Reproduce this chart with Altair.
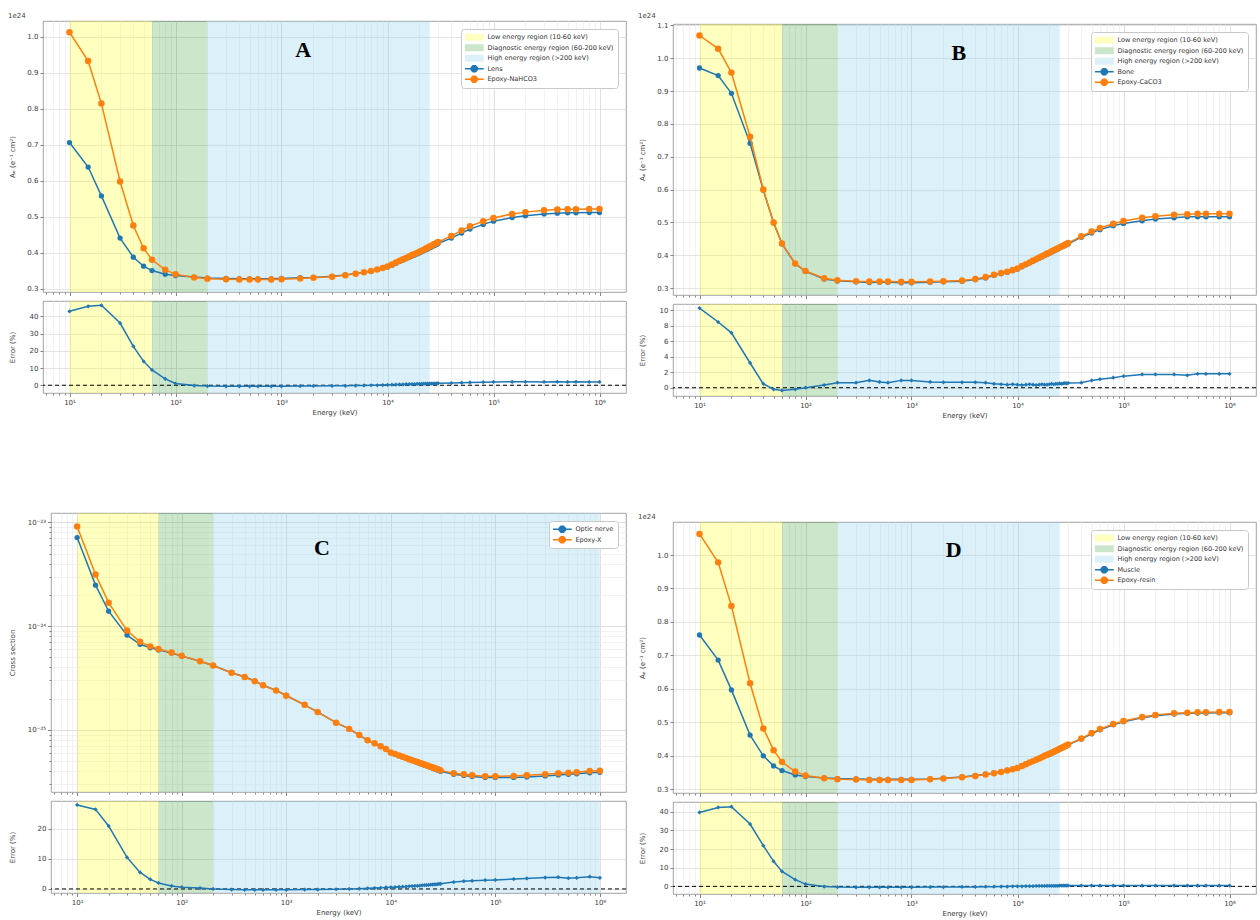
import altair as alt
import pandas as pd

# ---------------- data ----------------
E_KEV = [10, 15, 20, 30, 40, 50, 60, 80, 100, 150, 200, 300, 400, 500, 600, 800,
         1000, 1500, 2000, 3000, 4000, 5000,
         6000, 7000, 8000, 9000, 10000, 11000, 12000, 13000, 14000, 15000, 16000,
         17000, 18000, 19000, 20000, 21000, 22000, 23000, 24000, 25000, 26000,
         27000, 28000, 29000, 30000,
         40000, 50000, 60000, 80000, 100000, 150000, 200000, 300000, 400000,
         500000, 600000, 800000, 1000000]

# Panel A (values x 1e24)
A_LENS = [0.706, 0.638, 0.558, 0.441, 0.388, 0.363, 0.351, 0.341, 0.337, 0.333, 0.330, 0.329, 0.328, 0.328, 0.328, 0.328,
          0.329, 0.331, 0.332, 0.335, 0.339, 0.343,
          0.346, 0.350, 0.354, 0.358, 0.361, 0.366, 0.371, 0.376, 0.380, 0.384, 0.388,
          0.391, 0.394, 0.397, 0.400, 0.403, 0.406, 0.409, 0.411, 0.414, 0.416,
          0.419, 0.421, 0.423, 0.426,
          0.441, 0.455, 0.466, 0.479, 0.488, 0.498, 0.503, 0.508, 0.510,
          0.511, 0.511, 0.512, 0.512]
A_EPOXY = [1.012, 0.932, 0.814, 0.598, 0.476, 0.413, 0.381, 0.353, 0.341, 0.332, 0.328, 0.327, 0.326, 0.326, 0.326, 0.326,
           0.327, 0.329, 0.331, 0.334, 0.338, 0.342,
           0.346, 0.350, 0.354, 0.358, 0.362, 0.368, 0.373, 0.378, 0.382, 0.386, 0.390,
           0.394, 0.397, 0.400, 0.403, 0.406, 0.409, 0.412, 0.415, 0.418, 0.420,
           0.423, 0.425, 0.427, 0.430,
           0.447, 0.462, 0.474, 0.488, 0.497, 0.508, 0.513, 0.518, 0.520,
           0.521, 0.521, 0.522, 0.522]
A_ERR = [42.9, 45.8, 46.4, 36.1, 22.6, 13.9, 8.9, 3.7, 1.0, -0.2, -0.5, -0.6, -0.6, -0.6, -0.6, -0.6,
         -0.6, -0.5, -0.4, -0.3, -0.3, -0.2,
         -0.1, 0.0, 0.0, 0.1, 0.2, 0.3, 0.4, 0.5, 0.5, 0.6, 0.6,
         0.7, 0.7, 0.8, 0.8, 0.8, 0.9, 0.9, 0.9, 1.0, 1.0,
         1.0, 1.0, 1.1, 1.1,
         1.3, 1.5, 1.6, 1.8, 1.9, 2.0, 2.0, 1.9, 2.0,
         1.9, 2.0, 1.9, 1.9]

# Panel B (values x 1e24)
B_BONE = [0.970, 0.947, 0.893, 0.741, 0.598, 0.499, 0.435, 0.374, 0.351, 0.328, 0.322, 0.319, 0.317, 0.318, 0.318, 0.316,
          0.316, 0.318, 0.319, 0.321, 0.326, 0.331,
          0.339, 0.344, 0.348, 0.353, 0.358, 0.365, 0.371, 0.377, 0.382, 0.387, 0.391,
          0.395, 0.399, 0.403, 0.406, 0.410, 0.413, 0.416, 0.419, 0.422, 0.425,
          0.427, 0.430, 0.432, 0.434,
          0.455, 0.468, 0.478, 0.490, 0.497, 0.505, 0.510, 0.514, 0.517,
          0.517, 0.517, 0.517, 0.517]
B_EPOXY = [1.069, 1.029, 0.956, 0.761, 0.600, 0.500, 0.436, 0.375, 0.352, 0.330, 0.324, 0.321, 0.320, 0.320, 0.320, 0.319,
           0.319, 0.320, 0.321, 0.323, 0.328, 0.334,
           0.341, 0.346, 0.350, 0.355, 0.360, 0.367, 0.373, 0.378, 0.384, 0.388, 0.393,
           0.397, 0.401, 0.405, 0.408, 0.412, 0.415, 0.418, 0.421, 0.424, 0.427,
           0.429, 0.432, 0.434, 0.437,
           0.458, 0.472, 0.483, 0.496, 0.504, 0.514, 0.519, 0.523, 0.525,
           0.526, 0.526, 0.526, 0.526]
B_ERR = [10.3, 8.5, 7.1, 3.2, 0.5, -0.2, -0.35, -0.2, 0.0, 0.35, 0.65, 0.65, 0.95, 0.75, 0.65, 0.95,
         0.95, 0.75, 0.7, 0.7, 0.7, 0.65,
         0.5, 0.45, 0.4, 0.45, 0.4, 0.35, 0.4, 0.45, 0.4, 0.35, 0.4,
         0.45, 0.4, 0.4, 0.45, 0.5, 0.45, 0.5, 0.5, 0.55, 0.5,
         0.55, 0.6, 0.55, 0.6,
         0.65, 0.95, 1.1, 1.3, 1.5, 1.72, 1.72, 1.72, 1.6,
         1.8, 1.8, 1.8, 1.8]

# Panel C (cross section)
C_NERVE = [7.13e-24, 2.48e-24, 1.39e-24, 8.18e-25, 6.67e-25, 6.17e-25, 5.89e-25, 5.50e-25, 5.13e-25, 4.57e-25,
           4.17e-25, 3.55e-25, 3.24e-25, 2.95e-25, 2.69e-25, 2.40e-25,
           2.14e-25, 1.74e-25, 1.48e-25, 1.17e-25, 1.02e-25, 8.9e-26,
           7.9e-26, 7.4e-26, 6.9e-26, 6.5e-26, 6.0e-26, 5.81e-26, 5.62e-26, 5.46e-26, 5.31e-26, 5.16e-26, 5.04e-26,
           4.93e-26, 4.83e-26, 4.73e-26, 4.65e-26, 4.56e-26, 4.49e-26, 4.42e-26, 4.35e-26, 4.28e-26, 4.22e-26,
           4.16e-26, 4.10e-26, 4.05e-26, 3.98e-26,
           3.72e-26, 3.63e-26, 3.55e-26, 3.47e-26, 3.47e-26, 3.47e-26, 3.51e-26, 3.59e-26, 3.67e-26,
           3.72e-26, 3.76e-26, 3.85e-26, 3.89e-26]
C_EPOXY = [9.13e-24, 3.14e-24, 1.68e-24, 9.04e-25, 7.04e-25, 6.37e-25, 6.01e-25, 5.56e-25, 5.16e-25, 4.58e-25,
           4.17e-25, 3.54e-25, 3.23e-25, 2.94e-25, 2.68e-25, 2.39e-25,
           2.13e-25, 1.74e-25, 1.48e-25, 1.17e-25, 1.02e-25, 8.9e-26,
           7.92e-26, 7.42e-26, 6.92e-26, 6.52e-26, 6.03e-26, 5.84e-26, 5.66e-26, 5.50e-26, 5.35e-26, 5.21e-26, 5.09e-26,
           4.98e-26, 4.88e-26, 4.78e-26, 4.70e-26, 4.62e-26, 4.55e-26, 4.48e-26, 4.41e-26, 4.35e-26, 4.29e-26,
           4.23e-26, 4.17e-26, 4.12e-26, 4.06e-26,
           3.81e-26, 3.73e-26, 3.65e-26, 3.57e-26, 3.57e-26, 3.59e-26, 3.64e-26, 3.73e-26, 3.81e-26,
           3.85e-26, 3.90e-26, 4.01e-26, 4.03e-26]
C_ERR = [28.0, 26.5, 21.0, 10.5, 5.5, 3.2, 2.0, 1.0, 0.6, 0.3, 0.0, -0.2, -0.3, -0.3, -0.3, -0.3,
         -0.3, -0.2, -0.2, -0.1, 0.0, 0.1,
         0.2, 0.3, 0.4, 0.5, 0.55, 0.6, 0.7, 0.75, 0.8, 0.9, 0.95,
         1.0, 1.05, 1.1, 1.2, 1.25, 1.3, 1.35, 1.4, 1.45, 1.5,
         1.55, 1.6, 1.65, 1.7,
         2.3, 2.6, 2.7, 2.9, 3.0, 3.3, 3.5, 3.8, 3.9,
         3.6, 3.7, 4.1, 3.7]

# Panel D (values x 1e24)
D_MUSCLE = [0.761, 0.686, 0.597, 0.462, 0.400, 0.370, 0.356, 0.343, 0.338, 0.334, 0.332, 0.331, 0.330, 0.330, 0.330, 0.330,
            0.330, 0.331, 0.333, 0.337, 0.341, 0.345,
            0.349, 0.353, 0.357, 0.360, 0.364, 0.370, 0.375, 0.380, 0.384, 0.388, 0.392,
            0.396, 0.399, 0.402, 0.405, 0.408, 0.411, 0.414, 0.417, 0.420, 0.423,
            0.425, 0.428, 0.430, 0.433,
            0.450, 0.466, 0.478, 0.493, 0.502, 0.514, 0.520, 0.525, 0.527,
            0.528, 0.528, 0.529, 0.529]
D_EPOXY = [1.063, 0.978, 0.848, 0.617, 0.482, 0.417, 0.382, 0.353, 0.341, 0.333, 0.330, 0.329, 0.328, 0.328, 0.328, 0.328,
           0.328, 0.330, 0.332, 0.336, 0.340, 0.344,
           0.348, 0.352, 0.356, 0.360, 0.364, 0.370, 0.375, 0.380, 0.384, 0.388, 0.392,
           0.396, 0.400, 0.403, 0.406, 0.409, 0.412, 0.415, 0.418, 0.421, 0.424,
           0.426, 0.429, 0.431, 0.434,
           0.452, 0.468, 0.480, 0.495, 0.504, 0.516, 0.522, 0.527, 0.529,
           0.530, 0.530, 0.531, 0.531]
D_ERR = [39.6, 42.3, 42.7, 33.4, 21.8, 13.4, 8.0, 3.6, 1.2, -0.1, -0.4, -0.5, -0.5, -0.5, -0.5, -0.5,
         -0.5, -0.4, -0.4, -0.3, -0.3, -0.2,
         -0.2, -0.1, -0.1, 0.0, 0.0, 0.0, 0.1, 0.1, 0.1, 0.2, 0.2,
         0.2, 0.2, 0.3, 0.3, 0.3, 0.3, 0.3, 0.3, 0.4, 0.4,
         0.4, 0.4, 0.4, 0.4,
         0.4, 0.4, 0.4, 0.4, 0.4, 0.4, 0.4, 0.4, 0.4,
         0.4, 0.4, 0.4, 0.4]

REGION_NAMES = ["Low energy region (10-60 keV)", "Diagnostic energy region (60-200 keV)",
                "High energy region (>200 keV)"]
REGION_START = [10, 60, 200]
REGION_END_ABD = [60, 200, 25000]
REGION_END_C = [60, 200, 1000000]

# ---------------- styling ----------------
REGION_FILL = ["rgba(255,255,0,0.25)", "rgba(0,128,0,0.2)", "rgba(135,206,235,0.3)"]
BLUE = "#1f77b4"
ORANGE = "#ff7f0e"
X_MIN, X_MAX = 10 ** 0.75, 10 ** 6.25
FONT = "DejaVu Sans"

# legend symbols (symbolSize 4 -> path units are pixels)
RECT_SYM = "M-3.5,-3.5H15.5V3.5H-3.5Z"
LINE_SYM = ("M-3.5,0H15.5M8.96,1.22L7.22,2.96L4.78,2.96L3.04,1.22L3.04,-1.22"
            "L4.78,-2.96L7.22,-2.96L8.96,-1.22Z")

MAJOR = "abs(log(datum.value)/LN10 - round(log(datum.value)/LN10)) < 0.001"
X_LABELS = "(" + MAJOR + ") ? '10' + ['⁰','¹','²','³','⁴','⁵','⁶'][round(log(datum.value)/LN10)] : ''"
C_Y_LABELS = ("(" + MAJOR + ") ? (round(log(datum.value)/LN10) == -23 ? '10⁻²³' : "
              "round(log(datum.value)/LN10) == -24 ? '10⁻²⁴' : "
              "round(log(datum.value)/LN10) == -25 ? '10⁻²⁵' : '') : ''")

INDEP = dict(fill="independent", stroke="independent", shape="independent", color="independent")


def log_ticks(lo, hi, kmin, kmax):
    out = []
    for k in range(kmin, kmax + 1):
        for m in range(1, 10):
            v = float(f"{m}e{k}")
            if lo <= v <= hi:
                out.append(v)
    return out


X_TICKS = log_ticks(X_MIN, X_MAX, 0, 6)
TICK_SIZE = {"condition": {"test": MAJOR, "value": 3.5}, "value": 2}
GRID_COL = {"condition": {"test": MAJOR, "value": "#d2d2d2"}, "value": "#ececec"}

x_scale = alt.Scale(type="log", domain=[X_MIN, X_MAX], nice=False)
x_axis_top = alt.Axis(values=X_TICKS, labels=False, title=None, tickSize=TICK_SIZE, gridColor=GRID_COL)
x_axis_err = alt.Axis(values=X_TICKS, labelExpr=X_LABELS, title="Energy (keV)", tickSize=TICK_SIZE,
                      gridColor=GRID_COL, labelOverlap=False, labelPadding=2, titlePadding=3)


def spacer(w=1, h=1):
    return alt.Chart(pd.DataFrame({"a": [0]})).mark_point(opacity=0).properties(
        width=w, height=h, view=alt.ViewBackground(stroke="transparent"))


def panel(blue_vals, orange_vals, err_vals, blue_name, orange_name, region_end, show_region_legend,
          y_scale, y_axis, err_domain, err_ticks, ext, top_h, width, letter, letter_at, offset_text):
    df = pd.DataFrame({"E": E_KEV, "blue": blue_vals, "orange": orange_vals, "err": err_vals})
    reg = pd.DataFrame({"start": REGION_START, "end": region_end, "region": REGION_NAMES})
    reg_color = alt.Color("region:N", scale=alt.Scale(domain=REGION_NAMES, range=REGION_FILL), legend=None)

    # ---- top chart ----
    xt = alt.X("E:Q", scale=x_scale, axis=x_axis_top)
    reg_top = alt.Chart(reg).mark_rect().encode(
        x=alt.X("start:Q", scale=x_scale, axis=x_axis_top), x2="end:Q", color=reg_color)
    blue_line = alt.Chart(df).mark_line(color=BLUE, strokeWidth=1.5, clip=True,
                                        point=alt.OverlayMarkDef(filled=True, size=28, color=BLUE, opacity=1)).encode(
        x=xt, y=alt.Y("blue:Q", scale=y_scale, axis=y_axis))
    orange_line = alt.Chart(df).mark_line(color=ORANGE, strokeWidth=1.5, clip=True,
                                          point=alt.OverlayMarkDef(filled=True, size=42, color=ORANGE, opacity=1)).encode(
        x=xt, y=alt.Y("orange:Q", scale=y_scale, axis=y_axis))

    if show_region_legend:
        leg_labels = REGION_NAMES + [blue_name, orange_name]
        leg_fill = REGION_FILL + [BLUE, ORANGE]
        leg_stroke = ["transparent"] * 3 + [BLUE, ORANGE]
        leg_shape = [RECT_SYM] * 3 + [LINE_SYM, LINE_SYM]
    else:
        leg_labels = [blue_name, orange_name]
        leg_fill = [BLUE, ORANGE]
        leg_stroke = [BLUE, ORANGE]
        leg_shape = [LINE_SYM, LINE_SYM]
    leg_df = pd.DataFrame({"label": leg_labels, "E": [E_KEV[0]] * len(leg_labels),
                           "v": [blue_vals[0]] * len(leg_labels)})
    lg = dict(title=None, orient="top-right", offset=8, fillColor="white", strokeColor="#c8c8c8",
              padding=4, cornerRadius=3, labelFontSize=6.5, labelColor="#333333", labelFont=FONT,
              symbolSize=4, symbolStrokeWidth=1.5, symbolOpacity=1, labelOffset=16, rowPadding=1.5,
              labelLimit=400, labelBaseline="middle", clipHeight=8.5)
    legend_layer = alt.Chart(leg_df).transform_filter("false").mark_point(filled=True, opacity=1, size=4).encode(
        x=xt, y=alt.Y("v:Q", scale=y_scale, axis=y_axis),
        fill=alt.Fill("label:N", scale=alt.Scale(domain=leg_labels, range=leg_fill), legend=alt.Legend(**lg)),
        stroke=alt.Stroke("label:N", scale=alt.Scale(domain=leg_labels, range=leg_stroke), legend=alt.Legend(**lg)),
        shape=alt.Shape("label:N", scale=alt.Scale(domain=leg_labels, range=leg_shape), legend=alt.Legend(**lg)),
    )
    let_df = pd.DataFrame({"E": [letter_at[0]], "v": [letter_at[1]], "t": [letter]})
    letter_layer = alt.Chart(let_df).mark_text(font="Liberation Serif", fontSize=22, fontWeight="bold",
                                               color="black").encode(
        x=xt, y=alt.Y("v:Q", scale=y_scale, axis=y_axis), text="t:N")

    top = alt.layer(reg_top, blue_line, orange_line, letter_layer, legend_layer).properties(
        width=width, height=top_h)
    if offset_text:
        top = top.properties(title=alt.TitleParams(offset_text, anchor="start", fontSize=7, fontWeight="normal",
                                                   color="#444444", font=FONT, offset=2))

    # ---- error chart ----
    xe = alt.X("E:Q", scale=x_scale, axis=x_axis_err)
    e_scale = alt.Scale(domain=err_domain, nice=False, zero=False)
    e_axis = alt.Axis(values=err_ticks, format="d", title="Error (%)", minExtent=ext, maxExtent=ext,
                      titlePadding=3, tickSize=3, gridColor="#d8d8d8", labelPadding=2)
    reg_err = alt.Chart(reg).mark_rect().encode(
        x=alt.X("start:Q", scale=x_scale, axis=x_axis_err), x2="end:Q", color=reg_color)
    zero = alt.Chart(pd.DataFrame({"z": [0]})).mark_rule(color="black", strokeDash=[4, 3], strokeWidth=1).encode(
        y=alt.Y("z:Q", scale=e_scale, axis=e_axis))
    err_line = alt.Chart(df).mark_line(color=BLUE, strokeWidth=1.5, clip=True,
                                       point=alt.OverlayMarkDef(filled=True, size=18, shape="diamond",
                                                                color=BLUE, opacity=1)).encode(
        x=xe, y=alt.Y("err:Q", scale=e_scale, axis=e_axis))
    err = alt.layer(reg_err, zero, err_line).properties(width=width, height=92)
    return alt.vconcat(top, err, spacing=3).resolve_scale(**INDEP).resolve_legend(**INDEP)


def vwrap(p, gap):
    return alt.vconcat(spacer(), p, spacing=gap).resolve_scale(**INDEP).resolve_legend(**INDEP)


def hwrap(r):
    return alt.hconcat(spacer(), r, spacing=0).resolve_scale(**INDEP).resolve_legend(**INDEP)


def lin_axis(ticks, title, ext):
    return alt.Axis(values=ticks, format=".1f", title=title, minExtent=ext, maxExtent=ext, titlePadding=3,
                    tickSize=3, gridColor="#d8d8d8", labelPadding=2)


Y_TITLE = "Aₑ (e⁻¹ cm²)"
W = 583

pA = panel(A_LENS, A_EPOXY, A_ERR, "Lens", "Epoxy-NaHCO3", REGION_END_ABD, True,
           alt.Scale(domain=[0.2915, 1.043], nice=False, zero=False),
           lin_axis([0.3, 0.4, 0.5, 0.6, 0.7, 0.8, 0.9, 1.0], Y_TITLE, 25),
           [-4.5, 48.9], [0, 10, 20, 30, 40], 25, 271, W, "A", [1600, 0.962], "1e24")
pB = panel(B_BONE, B_EPOXY, B_ERR, "Bone", "Epoxy-CaCO3", REGION_END_ABD, True,
           alt.Scale(domain=[0.279, 1.104], nice=False, zero=False),
           lin_axis([0.3, 0.4, 0.5, 0.6, 0.7, 0.8, 0.9, 1.0, 1.1], Y_TITLE, 25),
           [-1.07, 10.83], [0, 2, 4, 6, 8, 10], 25, 271, W, "B", [2800, 1.015], "1e24")

C_LO, C_HI = 10 ** -25.6, 10 ** -22.91
C_TICKS = log_ticks(C_LO, C_HI, -26, -23)
c_axis = alt.Axis(values=C_TICKS, labelExpr=C_Y_LABELS, title="Cross section", minExtent=33, maxExtent=33,
                  titlePadding=3, tickSize=TICK_SIZE, gridColor=GRID_COL, labelPadding=2, labelOverlap=False)
pC = panel(C_NERVE, C_EPOXY, C_ERR, "Optic nerve", "Epoxy-X", REGION_END_C, False,
           alt.Scale(type="log", domain=[C_LO, C_HI], nice=False),
           c_axis, [-1.35, 29.3], [0, 10, 20], 33, 279, 575, "C", [2200, 10 ** -23.25], None)
pD = panel(D_MUSCLE, D_EPOXY, D_ERR, "Muscle", "Epoxy-resin", REGION_END_ABD, True,
           alt.Scale(domain=[0.289, 1.0986], nice=False, zero=False),
           lin_axis([0.3, 0.4, 0.5, 0.6, 0.7, 0.8, 0.9, 1.0], Y_TITLE, 25),
           [-4.1, 45.2], [0, 10, 20, 30, 40], 25, 271, W, "D", [2500, 1.015], "1e24")

row1 = alt.hconcat(vwrap(pA, 0), vwrap(pB, 0), spacing=10).resolve_scale(**INDEP).resolve_legend(**INDEP)
row2 = alt.hconcat(vwrap(pC, 0), vwrap(pD, 0), spacing=10).resolve_scale(**INDEP).resolve_legend(**INDEP)

chart = alt.vconcat(hwrap(row1), hwrap(row2), spacing=86).resolve_scale(**INDEP).resolve_legend(
    **INDEP).properties(
    padding={"left": 0, "top": 4, "right": 2, "bottom": 2},
    background="white",
).configure_view(
    stroke="#8c8c8c", strokeWidth=0.8,
).configure_axis(
    labelFont=FONT, labelFontSize=7, labelColor="#3a3a3a",
    titleFont=FONT, titleFontSize=7, titleFontWeight="normal", titleColor="#3a3a3a",
    tickColor="#666666", tickWidth=0.8, gridWidth=0.7, domain=False,
)

chart.save("out.html", embed_options={"renderer": "svg", "actions": False})
